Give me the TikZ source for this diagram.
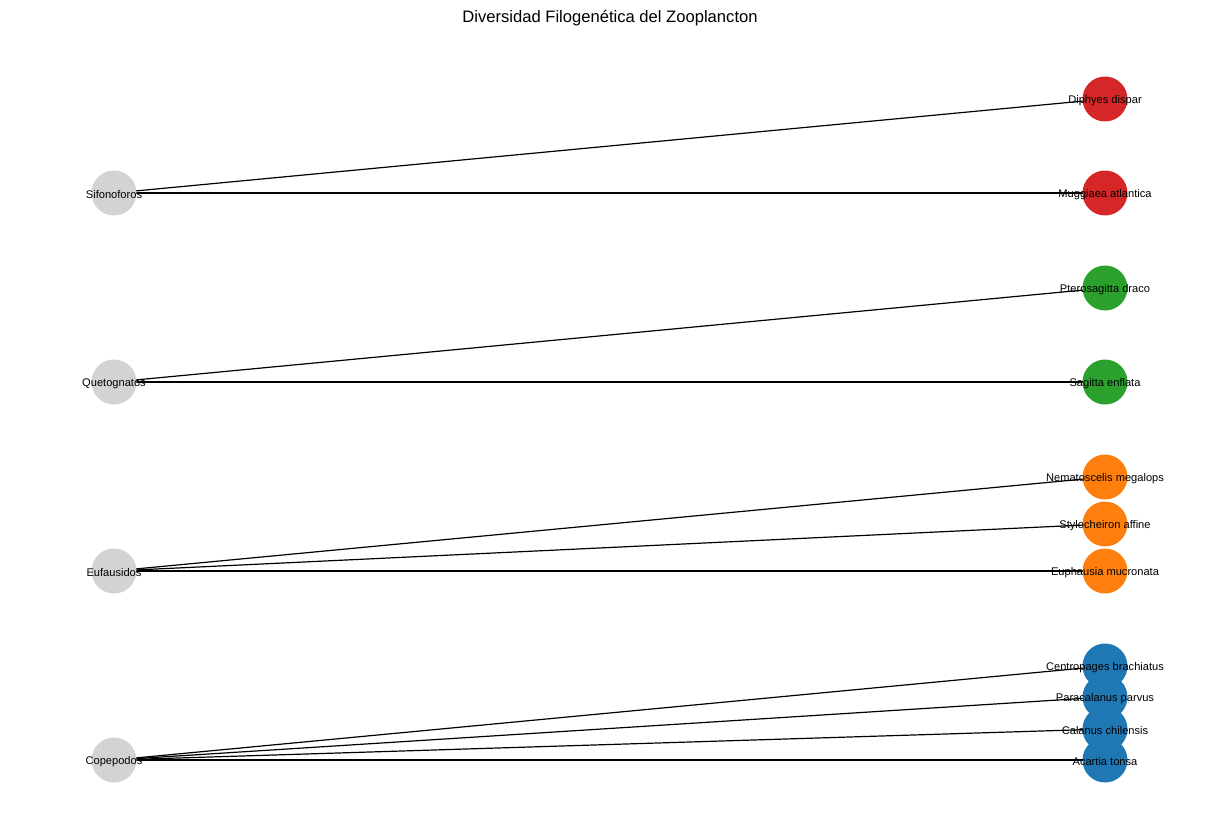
\documentclass[tikz,border=0pt]{standalone}
\usepackage{fontspec}
\setmainfont{Liberation Sans}
\usetikzlibrary{backgrounds}
\definecolor{grpgrey}{HTML}{D3D3D3}
\definecolor{copeblue}{HTML}{1F77B4}
\definecolor{eufaorange}{HTML}{FF7F0E}
\definecolor{quetgreen}{HTML}{2CA02C}
\definecolor{sifored}{HTML}{D62728}

\begin{document}
\begin{tikzpicture}[
  x=1pt, y=-1pt,
  dot/.style={circle, draw=none, inner sep=0pt, minimum size=45pt},
  group/.style={dot, fill=grpgrey},
  lbl/.style={font=\fontsize{11.1}{12}\selectfont, inner sep=0pt, yshift=-1.5pt},
  edge/.style={black, line width=1.2pt},
]
\useasboundingbox (0,0) rectangle (1220,840);

\node[font=\fontsize{16.6}{19}\selectfont] (title) at (610,18)
  {Diversidad Filogenética del Zooplancton};

% ---------------- groups (left column) -------------------------------
\node[group] (sifo) at (114,193) {};
\node[group] (quet) at (114,382) {};
\node[group] (eufa) at (114,571) {};
\node[group] (cope) at (114,760) {};

% ---------------- species (right column) -----------------------------
\node[dot, fill=sifored]    (diph) at (1105, 99) {};
\node[dot, fill=sifored]    (mugg) at (1105,193) {};
\node[dot, fill=quetgreen]  (pter) at (1105,288) {};
\node[dot, fill=quetgreen]  (sagi) at (1105,382) {};
\node[dot, fill=eufaorange] (nema) at (1105,477) {};
\node[dot, fill=eufaorange] (styl) at (1105,524) {};
\node[dot, fill=eufaorange] (euph) at (1105,571) {};
\node[dot, fill=copeblue]   (cent) at (1105,666) {};
\node[dot, fill=copeblue]   (para) at (1105,697) {};
\node[dot, fill=copeblue]   (cala) at (1105,729) {};
\node[dot, fill=copeblue]   (acar) at (1105,760) {};

% ---------------- labels on top --------------------------------------
\foreach \n/\t in {sifo/Sifonoforos, quet/Quetognatos, eufa/Eufausidos,
                   cope/Copepodos, diph/Diphyes dispar,
                   mugg/Muggiaea atlantica, pter/Pterosagitta draco,
                   sagi/Sagitta enflata, nema/Nematoscelis megalops,
                   styl/Stylocheiron affine, euph/Euphausia mucronata,
                   cent/Centropages brachiatus, para/Paracalanus parvus,
                   cala/Calanus chilensis, acar/Acartia tonsa}
  \node[lbl] (\n-t) at (\n) {\t};

% ---------------- edges under the dots -------------------------------
\begin{scope}[on background layer]
  \foreach \n in {diph,mugg}
    \draw[edge] (sifo.center) -- (\n.center);
  \foreach \n in {pter,sagi}
    \draw[edge] (quet.center) -- (\n.center);
  \foreach \n in {nema,styl,euph}
    \draw[edge] (eufa.center) -- (\n.center);
  \foreach \n in {cent,para,cala,acar}
    \draw[edge] (cope.center) -- (\n.center);
\end{scope}

\end{tikzpicture}
\end{document}
